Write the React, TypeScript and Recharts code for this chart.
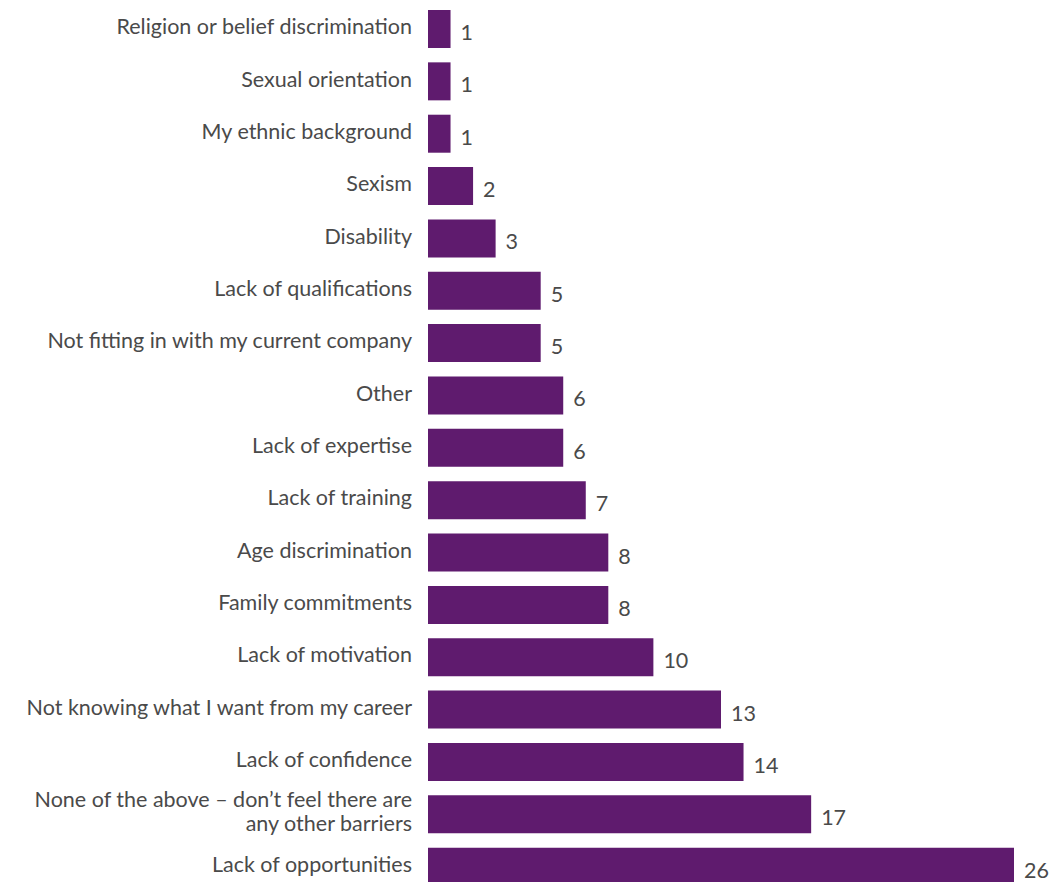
import React from "react";
import { BarChart, Bar, XAxis, YAxis, LabelList } from "recharts";

const categories = [
  "Religion or belief discrimination",
  "Sexual orientation",
  "My ethnic background",
  "Sexism",
  "Disability",
  "Lack of qualifications",
  "Not fitting in with my current company",
  "Other",
  "Lack of expertise",
  "Lack of training",
  "Age discrimination",
  "Family commitments",
  "Lack of motivation",
  "Not knowing what I want from my career",
  "Lack of confidence",
  "None of the above – don’t feel there are\nany other barriers",
  "Lack of opportunities",
];

const values = [1, 1, 1, 2, 3, 5, 5, 6, 6, 7, 8, 8, 10, 13, 14, 17, 26];

const data = categories.map((name, i) => ({ name, value: values[i] }));

const textColor = "#4a4a4a";
const font = "Lato, 'Open Sans', sans-serif";

const WrappedTick = (props: any) => {
  const { x, y, payload } = props;
  const lines: string[] = String(payload.value).split("\n");
  const lineHeight = 24;
  const startDy = -3 - ((lines.length - 1) * lineHeight) / 2;
  return (
    <text
      x={x}
      y={y}
      textAnchor="end"
      fill={textColor}
      fontSize={21.5}
      fontFamily={font}
      dominantBaseline="central"
    >
      {lines.map((line, i) => (
        <tspan key={i} x={x} dy={i === 0 ? startDy : lineHeight}>
          {line}
        </tspan>
      ))}
    </text>
  );
};

const ValueLabel = (props: any) => {
  const { x, y, width, height, value } = props;
  return (
    <text
      x={x + width + 10}
      y={y + height / 2 + 3}
      fill={textColor}
      fontSize={21.5}
      fontFamily={font}
      dominantBaseline="central"
    >
      {value}
    </text>
  );
};

const App: React.FC = () => {
  return (
    <div style={{ position: "absolute", left: 0, top: 0 }}>
      <BarChart
        width={1051}
        height={895}
        data={data}
        layout="vertical"
        margin={{ top: 3, right: 37, bottom: 2, left: 0 }}
      >
        <XAxis type="number" domain={[0, 26]} hide />
        <YAxis
          type="category"
          dataKey="name"
          width={428}
          axisLine={false}
          tickLine={false}
          tickSize={0}
          tickMargin={16}
          interval={0}
          tick={<WrappedTick />}
        />
        <Bar dataKey="value" fill="#5f1b6e" barSize={38} isAnimationActive={false}>
          <LabelList dataKey="value" content={<ValueLabel />} />
        </Bar>
      </BarChart>
    </div>
  );
};

export default App;
